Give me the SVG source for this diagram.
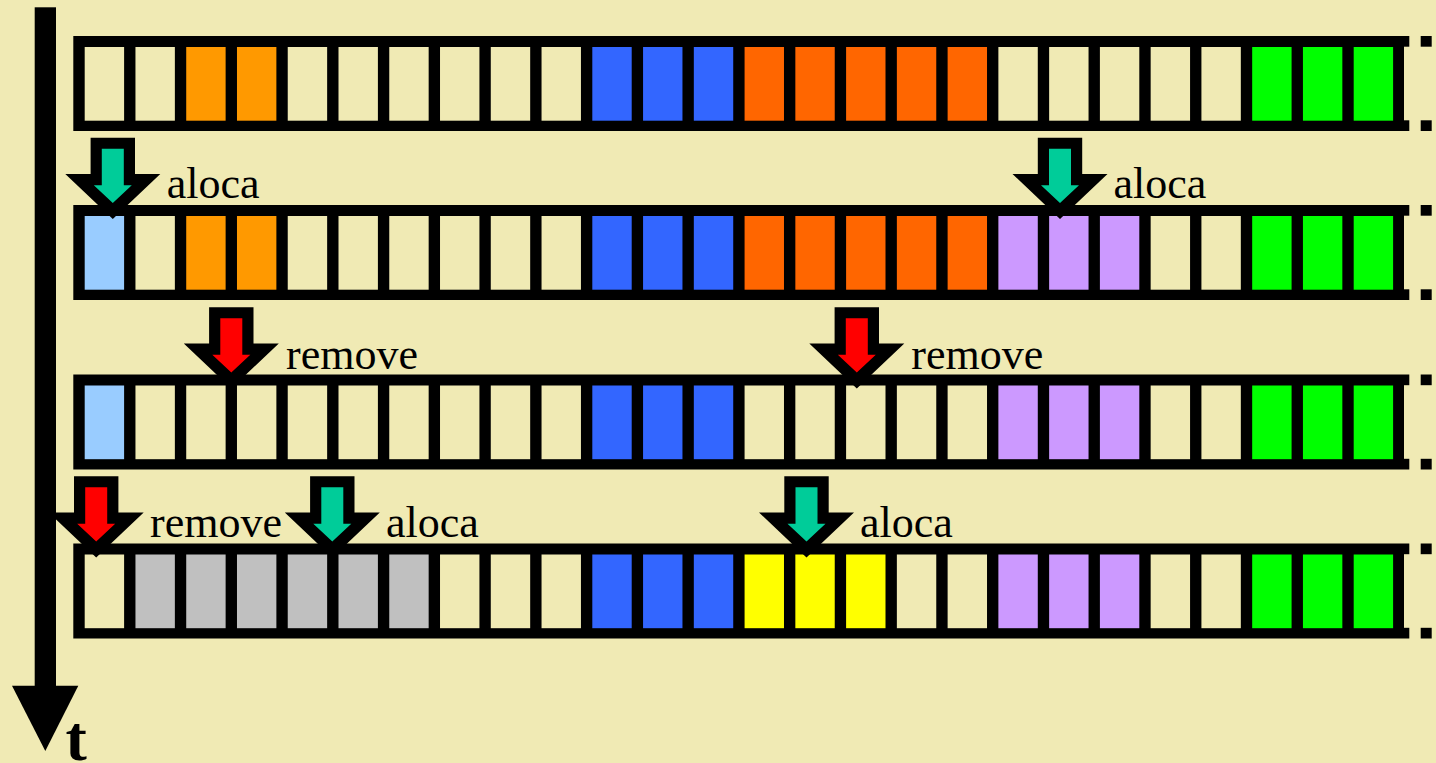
<svg xmlns="http://www.w3.org/2000/svg" xmlns:xlink="http://www.w3.org/1999/xlink" width="1436" height="763" viewBox="0 0 1436 763">
<style>
.bg{fill:#F0EAB4}
.frame{fill:#000}
.e{fill:#F0EAB4}
.lb{fill:#99CCFF}
.or{fill:#FF9900}
.rd{fill:#FF6600}
.bl{fill:#3366FF}
.gr{fill:#00FF00}
.pu{fill:#CC99FF}
.ye{fill:#FFFF00}
.gy{fill:#C0C0C0}
.alloc{fill:#00CC99}
.rem{fill:#FF0000}
.lbl{font-family:"Liberation Serif","Times New Roman",serif;font-size:44px;fill:#000}
.t{font-family:"Liberation Serif","Times New Roman",serif;font-size:64px;font-weight:bold;fill:#000}
</style>
<defs>
<g id="frame">
<rect x="73.3" y="0" width="1330.7" height="95" class="frame"/>
<rect x="1404" y="0" width="5.3" height="10.7" class="frame"/>
<rect x="1404" y="84.3" width="5.3" height="10.7" class="frame"/>
<rect x="1420.7" y="0" width="11" height="10.7" class="frame"/>
<rect x="1420.7" y="84.3" width="11" height="10.7" class="frame"/>
</g>
<polygon id="ao" points="-22.2,-67.3 22.2,-67.3 22.2,-31 47.5,-31 0,14 -47.5,-31 -22.2,-31"/>
<polygon id="ai" points="-11,-56.3 11,-56.3 11,-19.7 19,-19.7 0,-2 -19,-19.7 -11,-19.7"/>
</defs>
<rect x="0" y="0" width="1436" height="763" class="bg"/>

<g id="time-axis">
<rect x="34.7" y="7.3" width="21.3" height="679" fill="#000"/>
<polygon points="12,685.7 78.3,685.7 45.3,751" fill="#000"/>
<text x="65.5" y="760" class="t">t</text>
</g>

<g id="row1" transform="translate(0,36)">
<use xlink:href="#frame"/>
<g transform="translate(0,11)">
<rect x="84.7" y="0" width="39.4" height="73.7" class="e"/>
<rect x="135.46" y="0" width="39.4" height="73.7" class="e"/>
<rect x="186.22" y="0" width="39.4" height="73.7" class="or"/>
<rect x="236.98" y="0" width="39.4" height="73.7" class="or"/>
<rect x="287.74" y="0" width="39.4" height="73.7" class="e"/>
<rect x="338.5" y="0" width="39.4" height="73.7" class="e"/>
<rect x="389.26" y="0" width="39.4" height="73.7" class="e"/>
<rect x="440.02" y="0" width="39.4" height="73.7" class="e"/>
<rect x="490.78" y="0" width="39.4" height="73.7" class="e"/>
<rect x="541.54" y="0" width="39.4" height="73.7" class="e"/>
<rect x="592.3" y="0" width="39.4" height="73.7" class="bl"/>
<rect x="643.06" y="0" width="39.4" height="73.7" class="bl"/>
<rect x="693.82" y="0" width="39.4" height="73.7" class="bl"/>
<rect x="744.58" y="0" width="39.4" height="73.7" class="rd"/>
<rect x="795.34" y="0" width="39.4" height="73.7" class="rd"/>
<rect x="846.1" y="0" width="39.4" height="73.7" class="rd"/>
<rect x="896.86" y="0" width="39.4" height="73.7" class="rd"/>
<rect x="947.62" y="0" width="39.4" height="73.7" class="rd"/>
<rect x="998.38" y="0" width="39.4" height="73.7" class="e"/>
<rect x="1049.14" y="0" width="39.4" height="73.7" class="e"/>
<rect x="1099.9" y="0" width="39.4" height="73.7" class="e"/>
<rect x="1150.66" y="0" width="39.4" height="73.7" class="e"/>
<rect x="1201.42" y="0" width="39.4" height="73.7" class="e"/>
<rect x="1252.18" y="0" width="39.4" height="73.7" class="gr"/>
<rect x="1302.94" y="0" width="39.4" height="73.7" class="gr"/>
<rect x="1353.7" y="0" width="39.4" height="73.7" class="gr"/>
</g>
</g>

<g id="row2" transform="translate(0,205)">
<use xlink:href="#frame"/>
<g transform="translate(0,11)">
<rect x="84.7" y="0" width="39.4" height="73.7" class="lb"/>
<rect x="135.46" y="0" width="39.4" height="73.7" class="e"/>
<rect x="186.22" y="0" width="39.4" height="73.7" class="or"/>
<rect x="236.98" y="0" width="39.4" height="73.7" class="or"/>
<rect x="287.74" y="0" width="39.4" height="73.7" class="e"/>
<rect x="338.5" y="0" width="39.4" height="73.7" class="e"/>
<rect x="389.26" y="0" width="39.4" height="73.7" class="e"/>
<rect x="440.02" y="0" width="39.4" height="73.7" class="e"/>
<rect x="490.78" y="0" width="39.4" height="73.7" class="e"/>
<rect x="541.54" y="0" width="39.4" height="73.7" class="e"/>
<rect x="592.3" y="0" width="39.4" height="73.7" class="bl"/>
<rect x="643.06" y="0" width="39.4" height="73.7" class="bl"/>
<rect x="693.82" y="0" width="39.4" height="73.7" class="bl"/>
<rect x="744.58" y="0" width="39.4" height="73.7" class="rd"/>
<rect x="795.34" y="0" width="39.4" height="73.7" class="rd"/>
<rect x="846.1" y="0" width="39.4" height="73.7" class="rd"/>
<rect x="896.86" y="0" width="39.4" height="73.7" class="rd"/>
<rect x="947.62" y="0" width="39.4" height="73.7" class="rd"/>
<rect x="998.38" y="0" width="39.4" height="73.7" class="pu"/>
<rect x="1049.14" y="0" width="39.4" height="73.7" class="pu"/>
<rect x="1099.9" y="0" width="39.4" height="73.7" class="pu"/>
<rect x="1150.66" y="0" width="39.4" height="73.7" class="e"/>
<rect x="1201.42" y="0" width="39.4" height="73.7" class="e"/>
<rect x="1252.18" y="0" width="39.4" height="73.7" class="gr"/>
<rect x="1302.94" y="0" width="39.4" height="73.7" class="gr"/>
<rect x="1353.7" y="0" width="39.4" height="73.7" class="gr"/>
</g>
</g>

<g id="row3" transform="translate(0,374.5)">
<use xlink:href="#frame"/>
<g transform="translate(0,11)">
<rect x="84.7" y="0" width="39.4" height="73.7" class="lb"/>
<rect x="135.46" y="0" width="39.4" height="73.7" class="e"/>
<rect x="186.22" y="0" width="39.4" height="73.7" class="e"/>
<rect x="236.98" y="0" width="39.4" height="73.7" class="e"/>
<rect x="287.74" y="0" width="39.4" height="73.7" class="e"/>
<rect x="338.5" y="0" width="39.4" height="73.7" class="e"/>
<rect x="389.26" y="0" width="39.4" height="73.7" class="e"/>
<rect x="440.02" y="0" width="39.4" height="73.7" class="e"/>
<rect x="490.78" y="0" width="39.4" height="73.7" class="e"/>
<rect x="541.54" y="0" width="39.4" height="73.7" class="e"/>
<rect x="592.3" y="0" width="39.4" height="73.7" class="bl"/>
<rect x="643.06" y="0" width="39.4" height="73.7" class="bl"/>
<rect x="693.82" y="0" width="39.4" height="73.7" class="bl"/>
<rect x="744.58" y="0" width="39.4" height="73.7" class="e"/>
<rect x="795.34" y="0" width="39.4" height="73.7" class="e"/>
<rect x="846.1" y="0" width="39.4" height="73.7" class="e"/>
<rect x="896.86" y="0" width="39.4" height="73.7" class="e"/>
<rect x="947.62" y="0" width="39.4" height="73.7" class="e"/>
<rect x="998.38" y="0" width="39.4" height="73.7" class="pu"/>
<rect x="1049.14" y="0" width="39.4" height="73.7" class="pu"/>
<rect x="1099.9" y="0" width="39.4" height="73.7" class="pu"/>
<rect x="1150.66" y="0" width="39.4" height="73.7" class="e"/>
<rect x="1201.42" y="0" width="39.4" height="73.7" class="e"/>
<rect x="1252.18" y="0" width="39.4" height="73.7" class="gr"/>
<rect x="1302.94" y="0" width="39.4" height="73.7" class="gr"/>
<rect x="1353.7" y="0" width="39.4" height="73.7" class="gr"/>
</g>
</g>

<g id="row4" transform="translate(0,543.5)">
<use xlink:href="#frame"/>
<g transform="translate(0,11)">
<rect x="84.7" y="0" width="39.4" height="73.7" class="e"/>
<rect x="135.46" y="0" width="39.4" height="73.7" class="gy"/>
<rect x="186.22" y="0" width="39.4" height="73.7" class="gy"/>
<rect x="236.98" y="0" width="39.4" height="73.7" class="gy"/>
<rect x="287.74" y="0" width="39.4" height="73.7" class="gy"/>
<rect x="338.5" y="0" width="39.4" height="73.7" class="gy"/>
<rect x="389.26" y="0" width="39.4" height="73.7" class="gy"/>
<rect x="440.02" y="0" width="39.4" height="73.7" class="e"/>
<rect x="490.78" y="0" width="39.4" height="73.7" class="e"/>
<rect x="541.54" y="0" width="39.4" height="73.7" class="e"/>
<rect x="592.3" y="0" width="39.4" height="73.7" class="bl"/>
<rect x="643.06" y="0" width="39.4" height="73.7" class="bl"/>
<rect x="693.82" y="0" width="39.4" height="73.7" class="bl"/>
<rect x="744.58" y="0" width="39.4" height="73.7" class="ye"/>
<rect x="795.34" y="0" width="39.4" height="73.7" class="ye"/>
<rect x="846.1" y="0" width="39.4" height="73.7" class="ye"/>
<rect x="896.86" y="0" width="39.4" height="73.7" class="e"/>
<rect x="947.62" y="0" width="39.4" height="73.7" class="e"/>
<rect x="998.38" y="0" width="39.4" height="73.7" class="pu"/>
<rect x="1049.14" y="0" width="39.4" height="73.7" class="pu"/>
<rect x="1099.9" y="0" width="39.4" height="73.7" class="pu"/>
<rect x="1150.66" y="0" width="39.4" height="73.7" class="e"/>
<rect x="1201.42" y="0" width="39.4" height="73.7" class="e"/>
<rect x="1252.18" y="0" width="39.4" height="73.7" class="gr"/>
<rect x="1302.94" y="0" width="39.4" height="73.7" class="gr"/>
<rect x="1353.7" y="0" width="39.4" height="73.7" class="gr"/>
</g>
</g>

<g id="connectors">
<g transform="translate(112.8,205)"><use xlink:href="#ao" fill="#000"/><use xlink:href="#ai" class="alloc"/></g>
<g transform="translate(1060,205)"><use xlink:href="#ao" fill="#000"/><use xlink:href="#ai" class="alloc"/></g>
<g transform="translate(231.3,374.5)"><use xlink:href="#ao" fill="#000"/><use xlink:href="#ai" class="rem"/></g>
<g transform="translate(856.8,374.5)"><use xlink:href="#ao" fill="#000"/><use xlink:href="#ai" class="rem"/></g>
<g transform="translate(96.2,543.5)"><use xlink:href="#ao" fill="#000"/><use xlink:href="#ai" class="rem"/></g>
<g transform="translate(332.3,543.5)"><use xlink:href="#ao" fill="#000"/><use xlink:href="#ai" class="alloc"/></g>
<g transform="translate(806.5,543.5)"><use xlink:href="#ao" fill="#000"/><use xlink:href="#ai" class="alloc"/></g>
</g>

<g id="labels">
<text x="166.7" y="197.5" class="lbl">aloca</text>
<text x="1113.4" y="198" class="lbl">aloca</text>
<text x="286" y="368.5" class="lbl">remove</text>
<text x="911.3" y="368.5" class="lbl">remove</text>
<text x="150" y="537" class="lbl">remove</text>
<text x="386" y="537" class="lbl">aloca</text>
<text x="860" y="537" class="lbl">aloca</text>
</g>
</svg>
